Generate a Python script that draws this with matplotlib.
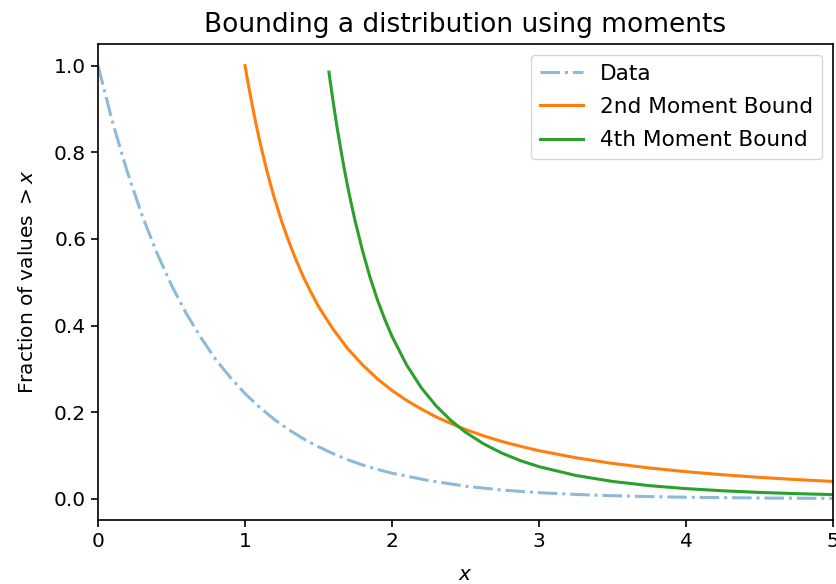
import numpy as np
import matplotlib.pyplot as plt

# survival curve of the sample, P(X > x)
data_x = [0.0, 0.1, 0.2, 0.3, 0.4, 0.5, 0.6, 0.7, 0.8, 0.9, 1.0, 1.1, 1.2, 1.3, 1.4,
          1.5, 1.6, 1.7, 1.8, 1.9, 2.0, 2.25, 2.5, 2.75, 3.0, 3.25, 3.5, 3.75, 4.0,
          4.5, 5.0]
data_y = [1.0, 0.868, 0.754, 0.654, 0.568, 0.493, 0.428, 0.372, 0.322, 0.280, 0.243,
          0.211, 0.183, 0.159, 0.138, 0.120, 0.104, 0.090, 0.078, 0.068, 0.059, 0.042,
          0.029, 0.020, 0.014, 0.010, 0.007, 0.005, 0.0035, 0.0017, 0.0009]

# Chebyshev-style bound from the 2nd moment
m2_x = [1.0, 1.025, 1.05, 1.075, 1.1, 1.125, 1.15, 1.175, 1.2, 1.25, 1.3, 1.35, 1.4,
        1.45, 1.5, 1.6, 1.7, 1.8, 1.9, 2.0, 2.1, 2.2, 2.3, 2.4, 2.5, 2.625, 2.75,
        2.875, 3.0, 3.25, 3.5, 3.75, 4.0, 4.25, 4.5, 4.75, 5.0]
m2_y = [1.0, 0.952, 0.907, 0.865, 0.826, 0.790, 0.756, 0.724, 0.694, 0.640, 0.592,
        0.549, 0.510, 0.476, 0.444, 0.391, 0.346, 0.309, 0.277, 0.250, 0.227, 0.207,
        0.189, 0.174, 0.160, 0.145, 0.132, 0.121, 0.111, 0.0947, 0.0816, 0.0711,
        0.0625, 0.0554, 0.0494, 0.0443, 0.040]

# bound from the 4th moment
m4_x = [1.571, 1.585, 1.6, 1.625, 1.65, 1.675, 1.7, 1.725, 1.75, 1.8, 1.85, 1.9,
        1.95, 2.0, 2.1, 2.2, 2.3, 2.4, 2.5, 2.625, 2.75, 2.875, 3.0, 3.25, 3.5,
        3.75, 4.0, 4.25, 4.5, 4.75, 5.0]
m4_y = [0.985, 0.951, 0.916, 0.860, 0.810, 0.762, 0.718, 0.678, 0.640, 0.572, 0.512,
        0.460, 0.415, 0.375, 0.3085, 0.256, 0.2144, 0.181, 0.1536, 0.1264, 0.105,
        0.0878, 0.0741, 0.0538, 0.040, 0.0303, 0.0234, 0.0184, 0.0146, 0.0118, 0.0096]

fig = plt.figure(figsize=(8.36, 5.84), dpi=100)
ax = fig.add_axes([98/836, 64/584, 735/836, 476/584])

lw = 2.2
ax.plot(data_x, data_y, '-.', color='tab:blue', alpha=0.5, lw=lw, label='Data')
ax.plot(m2_x, m2_y, color='tab:orange', lw=lw, label='2nd Moment Bound')
ax.plot(m4_x, m4_y, color='tab:green', lw=lw, label='4th Moment Bound')

ax.set_xlim(0, 5)
ax.set_title('Bounding a distribution using moments', fontsize=19, pad=9)
ax.set_xlabel('$x$', fontsize=14.5, labelpad=10)
ax.set_ylabel('Fraction of values $> x$', fontsize=14.5, labelpad=12)
ax.tick_params(labelsize=14.5, width=1.2, length=5)
for s in ax.spines.values():
    s.set_linewidth(1.2)
ax.legend(fontsize=15.6, loc='upper right', labelspacing=0.62)

fig.savefig('out.png', dpi=100)
